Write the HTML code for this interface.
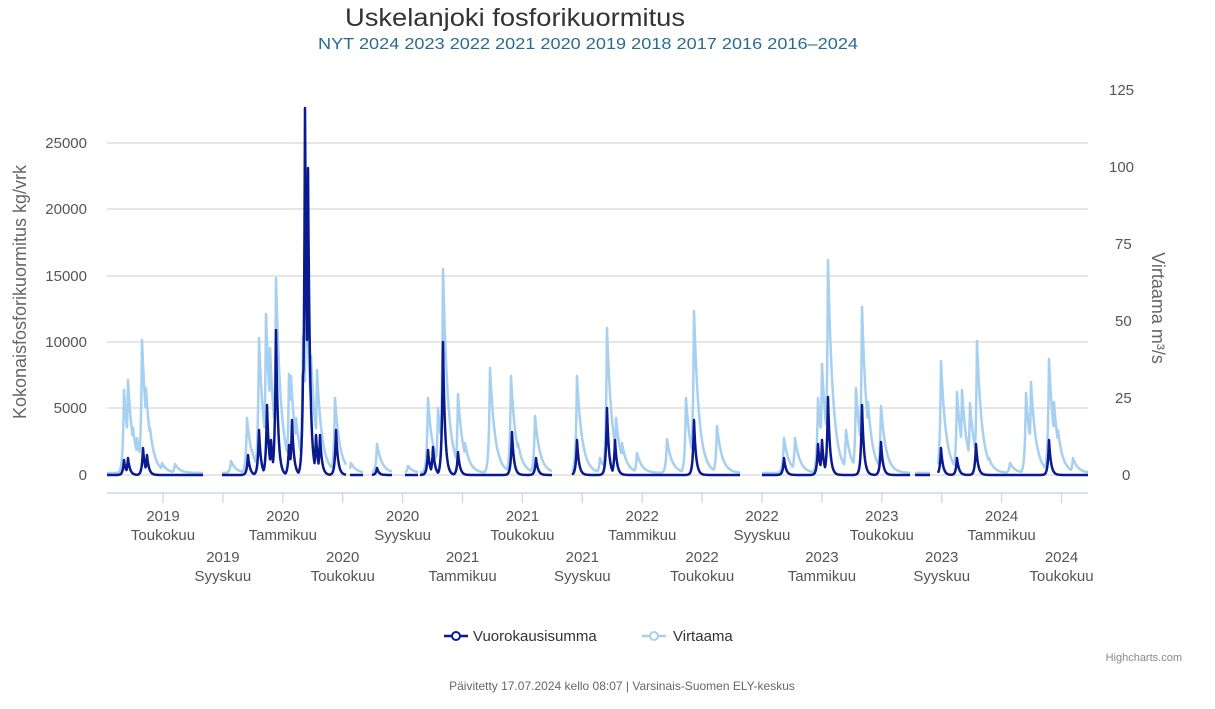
<!DOCTYPE html>
<html><head><meta charset="utf-8"><style>
body{margin:0;background:#fff;width:1215px;height:704px;overflow:hidden;font-family:"Liberation Sans","DejaVu Sans",sans-serif}
</style></head><body>
<svg id="s" width="1215" height="704" xmlns="http://www.w3.org/2000/svg" font-family="Liberation Sans, DejaVu Sans, sans-serif">
<text x="515" y="26" font-size="25" fill="#333" text-anchor="middle" textLength="340" lengthAdjust="spacingAndGlyphs">Uskelanjoki fosforikuormitus</text>
<text x="588" y="49" font-size="16" fill="#2b6a8f" text-anchor="middle" textLength="540" lengthAdjust="spacingAndGlyphs">NYT 2024 2023 2022 2021 2020 2019 2018 2017 2016 2016–2024</text>
<g stroke="#d6d6d6" stroke-width="1.3">
<line x1="107" x2="1088" y1="143" y2="143"/><line x1="107" x2="1088" y1="209" y2="209"/>
<line x1="107" x2="1088" y1="276" y2="276"/><line x1="107" x2="1088" y1="342" y2="342"/>
<line x1="107" x2="1088" y1="408" y2="408"/><line x1="107" x2="1088" y1="475" y2="475"/>
</g>
<line x1="107" x2="1088" y1="493" y2="493" stroke="#ccd6eb" stroke-width="1.5"/>
<g font-size="15" fill="#555" text-anchor="end">
<text x="87" y="148">25000</text><text x="87" y="214">20000</text><text x="87" y="281">15000</text>
<text x="87" y="347">10000</text><text x="87" y="413">5000</text><text x="87" y="480">0</text>
</g>
<g font-size="15" fill="#555" text-anchor="start">
<text x="1109" y="95">125</text><text x="1109" y="172">100</text><text x="1115" y="249">75</text>
<text x="1115" y="326">50</text><text x="1115" y="403">25</text><text x="1122" y="480">0</text>
</g>
<text transform="translate(26,292) rotate(-90)" font-size="18" fill="#666" text-anchor="middle">Kokonaisfosforikuormitus kg/vrk</text>
<text transform="translate(1152,308) rotate(90)" font-size="18" fill="#666" text-anchor="middle">Virtaama m³/s</text>
<g id="ticks" stroke="#ccd6eb" stroke-width="1.3"></g>
<g id="xl" font-size="15" fill="#555" text-anchor="middle"></g>
<g id="series"></g>
<line x1="444" x2="468" y1="636" y2="636" stroke="#0a1a8f" stroke-width="2.5"/>
<circle cx="456" cy="636" r="4" fill="#fff" stroke="#0a1a8f" stroke-width="2"/>
<text x="473" y="641" font-size="15" fill="#333">Vuorokausisumma</text>
<line x1="642" x2="666" y1="636" y2="636" stroke="#a6cff0" stroke-width="2.5"/>
<circle cx="654" cy="636" r="4" fill="#fff" stroke="#a6cff0" stroke-width="2"/>
<text x="673" y="641" font-size="15" fill="#333">Virtaama</text>
<text x="1182" y="661" font-size="11" fill="#888" text-anchor="end">Highcharts.com</text>
<text x="622" y="690" font-size="12" fill="#666" text-anchor="middle">Päivitetty 17.07.2024 kello 08:07 | Varsinais-Suomen ELY-keskus</text>
</svg>
<script>
var NS="http://www.w3.org/2000/svg";
function el(n,a,p,t){var e=document.createElementNS(NS,n);for(var k in a)e.setAttribute(k,a[k]);if(t)e.textContent=t;p.appendChild(e);return e;}
var ticks=document.getElementById('ticks'),xl=document.getElementById('xl');
var labs=[["2019","Toukokuu"],["2019","Syyskuu"],["2020","Tammikuu"],["2020","Toukokuu"],["2020","Syyskuu"],["2021","Tammikuu"],["2021","Toukokuu"],["2021","Syyskuu"],["2022","Tammikuu"],["2022","Toukokuu"],["2022","Syyskuu"],["2023","Tammikuu"],["2023","Toukokuu"],["2023","Syyskuu"],["2024","Tammikuu"],["2024","Toukokuu"]];
for(var i=0;i<16;i++){var x=163+i*59.9;
el('line',{x1:x,x2:x,y1:493,y2:503},ticks);
var y0=i%2==0?521:562;
el('text',{x:x,y:y0},xl,labs[i][0]);el('text',{x:x,y:y0+19},xl,labs[i][1]);}
var light=[[124,392],[128,382],[133,430],[137,440],[142,342],[146,390],[150,430],[162,465],[175,466],[231,463],[247,420],[252,452],[259,340],[266,316],[270,350],[276,280],[280,440],[289,376],[291,378],[296,420],[303,338],[306,280],[311,358],[317,372],[322,440],[335,400],[351,465],[377,446],[408,468],[428,400],[432,440],[438,410],[443,271],[450,440],[458,396],[465,445],[490,370],[511,378],[518,445],[535,418],[577,378],[583,445],[600,460],[607,330],[616,420],[622,445],[637,455],[667,441],[686,400],[694,313],[700,450],[717,428],[784,440],[795,440],[818,400],[822,366],[828,262],[834,445],[846,432],[856,390],[862,309],[868,404],[872,445],[881,408],[941,363],[946,450],[957,394],[962,392],[970,405],[977,343],[982,450],[989,460],[1010,465],[1026,395],[1031,384],[1036,450],[1049,361],[1054,404],[1058,432],[1073,460]];
var dark=[[124,460],[128,458],[143,448],[147,455],[248,455],[259,430],[267,405],[271,440],[276,330],[289,445],[292,420],[303,375],[305,108],[308,168],[316,435],[320,435],[336,430],[377,468],[428,450],[433,447],[443,342],[458,452],[512,432],[536,458],[577,440],[607,408],[615,440],[694,420],[784,458],[818,444],[822,440],[828,397],[862,405],[881,442],[941,448],[957,458],[976,444],[1049,440]];
var segs=[[107,203],[222,346],[350,363],[372,392],[405,418],[420,552],[572,740],[762,910],[915,930],[938,1088]];
function val(x,sp,dec){var m=0;for(var i=0;i<sp.length;i++){var dx=x-sp[i][0],h=475-sp[i][1];var f=dx>=0?Math.exp(-dx/dec):Math.exp(dx/1.2);if(h*f>m)m=h*f;}return m;}
function draw(sp,col,dec,base){var g=document.getElementById('series');
segs.forEach(function(s){var pts=[];for(var x=s[0];x<=s[1];x+=0.5){pts.push(x+","+(475-base-val(x,sp,dec)).toFixed(1));}
el('polyline',{points:pts.join(" "),fill:"none",stroke:col,"stroke-width":2.5,"stroke-linejoin":"round"},g);});}
draw(light,"#a6cff0",5,2);draw(dark,"#0a1a8f",2,0);
</script>
</body></html>
